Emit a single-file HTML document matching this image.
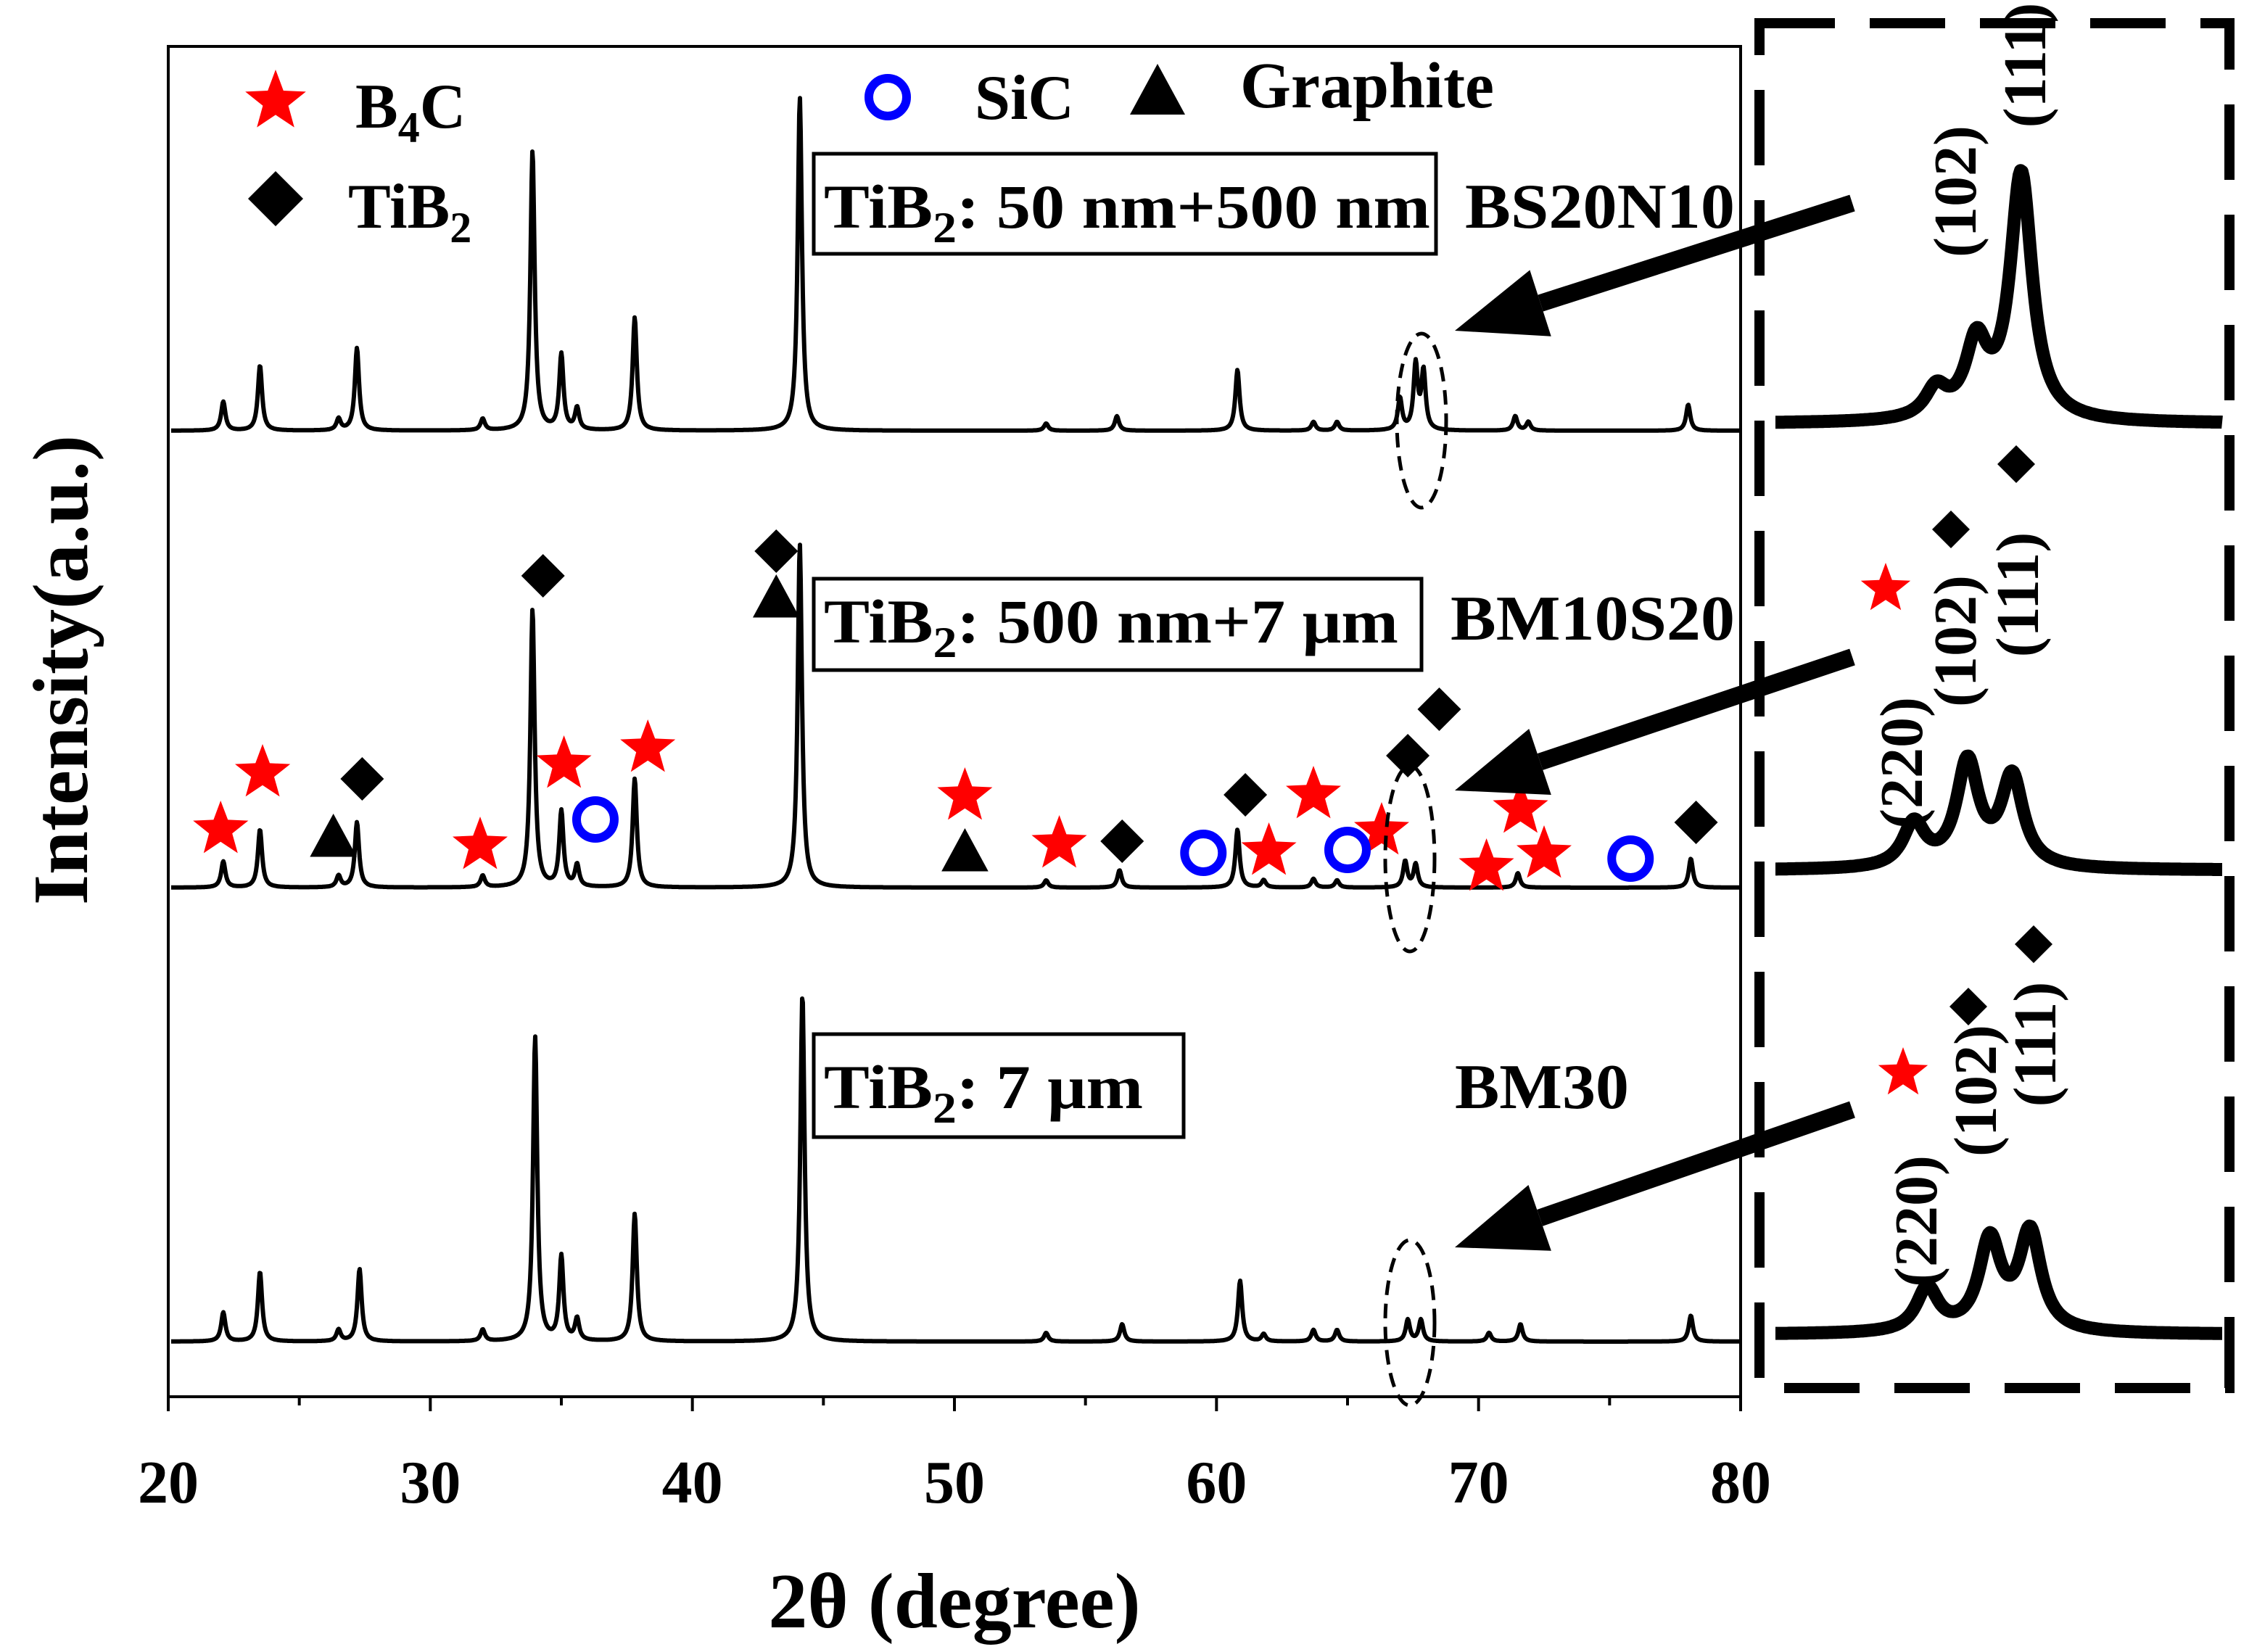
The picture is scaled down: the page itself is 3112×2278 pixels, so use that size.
<!DOCTYPE html>
<html><head><meta charset="utf-8"><style>
html,body{margin:0;padding:0;background:#fff}
svg{display:block}
text{font-family:"Liberation Serif",serif;font-weight:bold;fill:#000}
</style></head><body>
<svg id="c" width="3112" height="2278" viewBox="0 0 1556 1139" xmlns="http://www.w3.org/2000/svg">
<g id="frame">
<rect x="116" y="32" width="1084" height="931" fill="none" stroke="#000" stroke-width="2"/>
</g>
<g id="ticks"></g>
<text x="658" y="1122" font-size="54" text-anchor="middle">2θ (degree)</text>
<text transform="translate(60,462) rotate(-90)" font-size="54" text-anchor="middle">Intensity(a.u.)</text>
<g id="traces"></g>
<g id="marks"></g>
<g>
<text x="245" y="88" font-size="44">B<tspan font-size="30" dy="10">4</tspan><tspan dy="-10">C</tspan></text>
<text x="240" y="157" font-size="44">TiB<tspan font-size="30" dy="10">2</tspan></text>
<text x="672" y="82" font-size="44">SiC</text>
<text x="855" y="74" font-size="45">Graphite</text>
</g>
<g>
<rect x="561" y="106" width="429" height="69" fill="none" stroke="#000" stroke-width="2.5"/>
<text x="568" y="157" font-size="43" textLength="418" lengthAdjust="spacingAndGlyphs">TiB<tspan font-size="30" dy="10">2</tspan><tspan dy="-10">: 50 nm+500 nm</tspan></text>
<text x="1010" y="157" font-size="44" textLength="186" lengthAdjust="spacingAndGlyphs">BS20N10</text>
<rect x="561" y="399" width="419" height="63" fill="none" stroke="#000" stroke-width="2.5"/>
<text x="568" y="443" font-size="43" textLength="396" lengthAdjust="spacingAndGlyphs">TiB<tspan font-size="30" dy="10">2</tspan><tspan dy="-10">: 500 nm+7 μm</tspan></text>
<text x="1000" y="441" font-size="44" textLength="196" lengthAdjust="spacingAndGlyphs">BM10S20</text>
<rect x="561" y="713" width="255" height="71" fill="none" stroke="#000" stroke-width="2.5"/>
<text x="568" y="764" font-size="43" textLength="220" lengthAdjust="spacingAndGlyphs">TiB<tspan font-size="30" dy="10">2</tspan><tspan dy="-10">: 7 μm</tspan></text>
<text x="1003" y="764" font-size="44" textLength="120" lengthAdjust="spacingAndGlyphs">BM30</text>
</g>
<g fill="none" stroke="#000">
<ellipse cx="980" cy="290" rx="17" ry="60" stroke-width="2.5" stroke-dasharray="10,6"/>
<ellipse cx="972" cy="592" rx="17" ry="64" stroke-width="2.5" stroke-dasharray="10,6"/>
<ellipse cx="972" cy="912" rx="17" ry="57" stroke-width="2.5" stroke-dasharray="10,6"/>
</g>
<g id="arrows"></g>
<rect x="1213" y="16" width="324" height="941" fill="none" stroke="#000" stroke-width="7" stroke-dasharray="52,24"/>
<g id="inset"></g>
<g>
<text transform="translate(1362,132) rotate(-90)" text-anchor="middle" font-size="42">(102)</text>
<text transform="translate(1410,45) rotate(-90)" text-anchor="middle" font-size="42">(111)</text>
<text transform="translate(1325,526) rotate(-90)" text-anchor="middle" font-size="42">(220)</text>
<text transform="translate(1362,442) rotate(-90)" text-anchor="middle" font-size="42">(102)</text>
<text transform="translate(1405,410) rotate(-90)" text-anchor="middle" font-size="42">(111)</text>
<text transform="translate(1335,842) rotate(-90)" text-anchor="middle" font-size="42">(220)</text>
<text transform="translate(1376,752) rotate(-90)" text-anchor="middle" font-size="42">(102)</text>
<text transform="translate(1417,720) rotate(-90)" text-anchor="middle" font-size="42">(111)</text>
</g>
</svg>
<script>
// ---------- data ----------
const xTicks = [20,30,40,50,60,70,80];
const peakPos1 = [22.1,23.5,26.5,27.2,32.0,33.9,35.0,35.6,37.8,44.1,53.5,56.2,60.8,63.7,64.6,67.0,67.6,67.9,71.4,71.9,78.0];
const peakInt1 = [20,45,8,57,8,193,52,15,78,230,5,10,42,6,6,22,45,40,10,6,18];
const peakPos2 = [22.1,23.5,26.5,27.2,32.0,33.9,35.0,35.6,37.8,44.1,53.5,56.3,60.8,61.8,63.7,64.6,67.2,67.6,71.5,78.1];
const peakInt2 = [18,40,8,45,8,192,52,15,75,237,5,12,40,5,6,5,18,16,10,20];
const peakPos3 = [22.1,23.5,26.5,27.3,32.0,34.0,35.0,35.6,37.8,44.2,53.5,56.4,60.9,61.8,63.7,64.6,67.3,67.8,70.4,71.6,78.1];
const peakInt3 = [20,48,8,50,8,210,58,15,88,240,6,12,42,5,8,8,15,15,6,12,18];
const starDeg = [22.0,23.6,31.9,35.1,38.3,50.4,54.0,62.0,63.7,66.3,70.3,71.6,72.5];
const starOff = [40,79,29,85,96,63,30,25,64,39,14,54,23];
const diamondDeg = [27.4,34.3,43.2,56.4,61.1,67.3,68.5,78.3];
const diamondOff = [75,215,232,32,64,91,123,45];
const triDeg = [26.3,43.2,50.4];
const triOff = [34,199,24];
const circleDeg = [36.3,59.5,65.0,75.8];
const circleOff = [47,24,26,20];
// inset (relative x within inset, height)
const insetPos1 = [0.36,0.45,0.55];
const insetInt1 = [20,50,170];
const insetPos2 = [0.31,0.43,0.53];
const insetInt2 = [30,72,62];
const insetPos3 = [0.34,0.48,0.57];
const insetInt3 = [30,62,68];

const NS="http://www.w3.org/2000/svg";
const X0=116,X1=1200;
const xs=d=>X0+(d-20)/60*(X1-X0);
function el(tag,attrs,parent){const e=document.createElementNS(NS,tag);for(const k in attrs)e.setAttribute(k,attrs[k]);parent.appendChild(e);return e;}

// ticks
const tg=document.getElementById('ticks');
xTicks.forEach((t,i)=>{
  const l=el('line',{x1:xs(t),x2:xs(t),y1:963,y2:973,stroke:'#000','stroke-width':2},tg);
  
  
  const tx=el('text',{x:xs(t),y:1036,'font-size':42,'text-anchor':'middle'},tg);
  tx.textContent=t;
  
  
  if(i<xTicks.length-1){const m=el('line',{x1:xs(t+5),x2:xs(t+5),y1:963,y2:969,stroke:'#000','stroke-width':2},tg);
  
  }
});

// traces
function spectrum(pos,ints,base,name){
  let d='';
  for(let px=X0+2;px<=X1-1;px+=0.5){
    const deg=20+(px-X0)/(X1-X0)*60;
    let y=0;
    for(let i=0;i<pos.length;i++){const w=0.11;const u=(deg-pos[i])/w;y+=ints[i]/(1+u*u*1.3);}
    d+=(d?'L':'M')+px.toFixed(1)+','+(base-y).toFixed(1);
  }
  const p=el('path',{d:d,fill:'none',stroke:'#000','stroke-width':3,'stroke-linejoin':'round'},document.getElementById('traces'));
  
  
}
spectrum(peakPos1,peakInt1,297,'trace-bs20n10');
spectrum(peakPos2,peakInt2,612,'trace-bm10s20');
spectrum(peakPos3,peakInt3,925,'trace-bm30');

// markers
const mg=document.getElementById('marks');
function star(cx,cy,r,parent,name){
  let pts=[];for(let i=0;i<10;i++){const a=-Math.PI/2+i*Math.PI/5;const rr=i%2?r*0.42:r;pts.push((cx+rr*Math.cos(a)).toFixed(1)+','+(cy+rr*Math.sin(a)).toFixed(1));}
  const p=el('polygon',{points:pts.join(' '),fill:'#ff0000'},parent);
  
  
}
function diamond(cx,cy,r,parent,name){
  const p=el('polygon',{points:`${cx},${cy-r} ${cx+r},${cy} ${cx},${cy+r} ${cx-r},${cy}`,fill:'#000'},parent);
  
  
}
function tri(cx,cy,r,parent,name){
  const p=el('polygon',{points:`${cx},${cy-r} ${cx+r*0.95},${cy+r*0.75} ${cx-r*0.95},${cy+r*0.75}`,fill:'#000'},parent);
  
  
}
function circ(cx,cy,parent,name){
  const p=el('circle',{cx:cx,cy:cy,r:13,fill:'none',stroke:'#0000ff','stroke-width':6},parent);
  
  
}
const B2=612;
starDeg.forEach((d,i)=>star(xs(d),B2-starOff[i],20,mg,'b4c-marker'));
diamondDeg.forEach((d,i)=>diamond(xs(d),B2-diamondOff[i],15,mg,'tib2-marker'));
triDeg.forEach((d,i)=>tri(xs(d),B2-triOff[i],17,mg,'graphite-marker'));
circleDeg.forEach((d,i)=>circ(xs(d),B2-circleOff[i],mg,'sic-marker'));
// legend symbols
star(190,70,22,mg,'legend-star');
diamond(190,137,19,mg,'legend-diamond');
circ(612,67,mg,'legend-circle');
tri(798,64,20,mg,'legend-triangle');

// arrows
const ag=document.getElementById('arrows');
function arrow(x1,y1,x2,y2,name){
  const g=el('g',{},ag);
  
  
  const ang=Math.atan2(y2-y1,x2-x1),L=62,W=24;
  const bx=x2-L*Math.cos(ang),by=y2-L*Math.sin(ang);
  el('line',{x1:x1,y1:y1,x2:bx,y2:by,stroke:'#000','stroke-width':12},g);
  const px=-Math.sin(ang),py=Math.cos(ang);
  el('polygon',{points:`${x2},${y2} ${bx+px*W},${by+py*W} ${bx-px*W},${by-py*W}`,fill:'#000'},g);
}
arrow(1277,140,1003,228,'arrow-1');
arrow(1277,453,1003,545,'arrow-2');
arrow(1277,765,1003,860,'arrow-3');

// inset traces
const ig=document.getElementById('inset');
const IX0=1224,IX1=1532;
function insetTrace(pos,ints,base,name){
  let d='';
  for(let px=IX0;px<=IX1;px+=1){
    const f=(px-IX0)/(IX1-IX0);let y=0;
    for(let i=0;i<pos.length;i++){const u=(f-pos[i])/0.03;y+=ints[i]/(1+u*u);}
    d+=(d?'L':'M')+px+','+(base-y).toFixed(1);
  }
  const p=el('path',{d:d,fill:'none',stroke:'#000','stroke-width':9,'stroke-linejoin':'round'},ig);
  
  
}
insetTrace(insetPos1,insetInt1,292,'inset-trace-bs20n10');
insetTrace(insetPos2,insetInt2,600,'inset-trace-bm10s20');
insetTrace(insetPos3,insetInt3,920,'inset-trace-bm30');
diamond(1390,320,13,ig,'inset-tib2-111');
diamond(1345,365,13,ig,'inset-tib2-102');
star(1300,406,18,ig,'inset-b4c-220');
diamond(1402,651,13,ig,'inset-tib2-111');
diamond(1357,694,13,ig,'inset-tib2-102');
star(1312,740,18,ig,'inset-b4c-220');
</script>
</body></html>
